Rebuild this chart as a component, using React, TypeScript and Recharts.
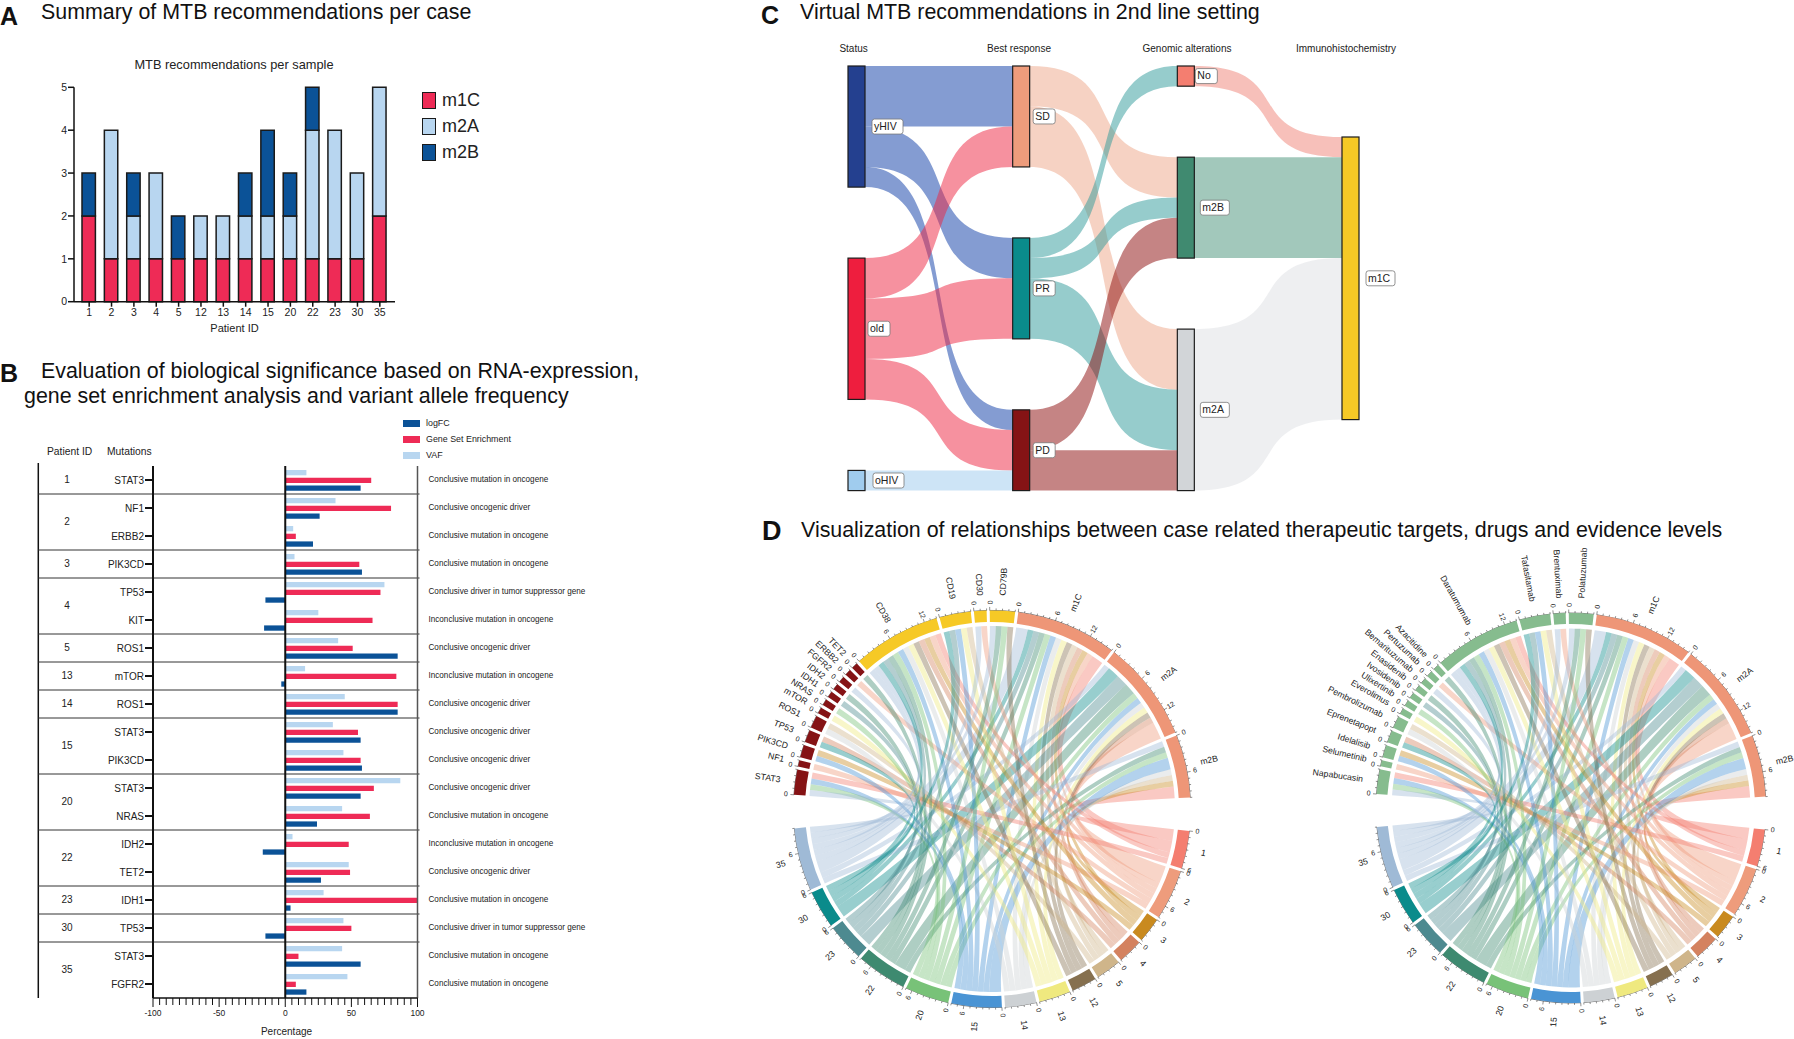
import React from 'react';
import {
  BarChart, Bar, XAxis, YAxis, Legend, ReferenceLine, Customized, Sankey, PieChart, Pie, Cell,
} from 'recharts';

const FONT = '"Liberation Sans", Arial, sans-serif';
const RED = '#EE2B56';
const PALE = '#B8D6F0';
const NAVY = '#0B5297';

// Panel A
const samplePatients = ['1', '2', '3', '4', '5', '12', '13', '14', '15', '20', '22', '23', '30', '35'];
const sampleM1C = [2, 1, 1, 1, 1, 1, 1, 1, 1, 1, 1, 1, 1, 2];
const sampleM2A = [0, 3, 1, 2, 0, 1, 1, 1, 1, 1, 3, 3, 2, 3];
const sampleM2B = [1, 0, 1, 0, 1, 0, 0, 1, 2, 1, 1, 0, 0, 0];
const sampleData = samplePatients.map((id, i) => ({ id, m1C: sampleM1C[i], m2A: sampleM2A[i], m2B: sampleM2B[i] }));

// Panel B
const mutationNames = ['STAT3', 'NF1', 'ERBB2', 'PIK3CD', 'TP53', 'KIT', 'ROS1', 'mTOR', 'ROS1', 'STAT3', 'PIK3CD', 'STAT3', 'NRAS', 'IDH2', 'TET2', 'IDH1', 'TP53', 'STAT3', 'FGFR2'];
const vafValues = [16, 38, 6, 7, 75, 25, 40, 15, 45, 36, 44, 87, 43, 5.5, 48, 29, 44, 43, 47];
const gseValues = [65, 80, 8, 56, 72, 66, 51, 84, 85, 55, 57, 67, 64, 48, 49, 100, 50, 10, 8];
const logfcValues = [57, 26, 21, 58, -15, -16, 85, -3, 85, 57, 58, 57, 24, -17, 27, 4, -15, 57, 16];
const mutationNotes = [
  'Conclusive mutation in oncogene', 'Conclusive oncogenic driver', 'Conclusive mutation in oncogene',
  'Conclusive mutation in oncogene', 'Conclusive driver in tumor suppressor gene', 'Inconclusive mutation in oncogene',
  'Conclusive oncogenic driver', 'Inconclusive mutation in oncogene', 'Conclusive oncogenic driver',
  'Conclusive oncogenic driver', 'Conclusive oncogenic driver', 'Conclusive oncogenic driver',
  'Conclusive mutation in oncogene', 'Inconclusive mutation in oncogene', 'Conclusive oncogenic driver',
  'Conclusive mutation in oncogene', 'Conclusive driver in tumor suppressor gene', 'Conclusive mutation in oncogene',
  'Conclusive mutation in oncogene',
];
const groupPatients = ['1', '2', '3', '4', '5', '13', '14', '15', '20', '22', '23', '30', '35'];
const groupRows = [1, 2, 1, 2, 1, 1, 1, 2, 2, 2, 1, 1, 2];
const percentTicks = [-100, -95, -90, -85, -80, -75, -70, -65, -60, -55, -50, -45, -40, -35, -30, -25, -20, -15, -10, -5, 0, 5, 10, 15, 20, 25, 30, 35, 40, 45, 50, 55, 60, 65, 70, 75, 80, 85, 90, 95, 100];
const percentLabels = [-100, -50, 0, 50, 100];
const mutationData = mutationNames.map((name, i) => ({ name, VAF: vafValues[i], 'Gene Set Enrichment': gseValues[i], logFC: logfcValues[i] }));

// Panel C
const flowNodes = ['yHIV', 'old', 'oHIV', 'SD', 'PR', 'PD', 'No', 'm2B', 'm2A', 'm1C'];
const flowNodeColors = ['#24408F', '#EE1E3E', '#A0CCEE', '#EE9C7C', '#0A8B8B', '#851315', '#F47E70', '#408A70', '#D2D5D8', '#F6C926'];
const flowLinkColors = ['#0A3AA5', '#ED233F', '#9BC9ED', '#EDA587', '#2D9999', '#8B0909', '#EF8175', '#459177', '#DDDFE3', '#F6C926'];
const flowSources = ['yHIV', 'yHIV', 'yHIV', 'old', 'old', 'old', 'oHIV', 'SD', 'SD', 'PR', 'PR', 'PR', 'PD', 'PD', 'No', 'm2B', 'm2A'];
const flowTargets = ['SD', 'PR', 'PD', 'SD', 'PR', 'PD', 'PD', 'm2B', 'm2A', 'No', 'm2B', 'm2A', 'm2B', 'm2A', 'm1C', 'm1C', 'm1C'];
const flowValues = [3, 2, 1, 2, 3, 2, 1, 2, 3, 1, 1, 3, 2, 2, 1, 5, 8];
const flowColumns = ['Status', 'Best response', 'Genomic alterations', 'Immunohistochemistry'];
const flowColumnCenters = [853.6, 1019, 1187, 1346];

// Panel D
const evidenceNames = ['m1C', 'm2A', 'm2B'];
const evidenceCounts = [
  [2, 1, 1, 1, 1, 1, 1, 1, 1, 1, 1, 1, 1, 2],
  [0, 3, 0, 1, 0, 1, 1, 1, 1, 1, 2, 2, 2, 1],
  [2, 0, 1, 0, 1, 0, 0, 1, 2, 1, 1, 0, 0, 1],
];
const patientColors = ['#F47E70', '#EE9C7C', '#C98A1F', '#D4825F', '#CFB58A', '#86704F', '#EFE97F', '#CDD1D4', '#4A94D4', '#78C278', '#3E8A70', '#4D8A90', '#0A8B8B', '#9FBAD6'];
const targetNames = ['STAT3', 'NF1', 'PIK3CD', 'TP53', 'ROS1', 'mTOR', 'NRAS', 'IDH1', 'IDH2', 'FGFR2', 'ERBB2', 'TET2', 'CD38', 'CD19', 'CD30', 'CD79B'];
const drugNames = ['Napabucasin', 'Selumetinib', 'Idelalisib', 'Eprenetapopt', 'Pembrolizumab', 'Everolimus', 'Ulixertinib', 'Ivosidenib', 'Enasidenib', 'Bemarituzumab', 'Pertuzumab', 'Azacitidine', 'Daratumumab', 'Tafasitamab', 'Brentuximab', 'Polatuzumab'];
const targetColors = ['#851315', '#851315', '#851315', '#851315', '#851315', '#851315', '#851315', '#851315', '#851315', '#851315', '#851315', '#851315', '#F6C926', '#F6C926', '#F6C926', '#F6C926'];
const drugColors = ['#86BC8E', '#86BC8E', '#86BC8E', '#86BC8E', '#86BC8E', '#86BC8E', '#86BC8E', '#86BC8E', '#86BC8E', '#86BC8E', '#86BC8E', '#86BC8E', '#86BC8E', '#86BC8E', '#86BC8E', '#86BC8E'];
const targetPatients = [
  ['1', '15', '20', '35'], ['2'], ['3', '15'], ['4', '30'], ['5', '14'], ['13'], ['20'], ['23'], ['22'], ['35'], ['2'], ['22'],
  ['35', '35', '30', '23', '22', '20', '15', '14', '13', '12', '4', '3', '2', '1'],
  ['30', '23', '15', '13', '5'],
  ['35', '2'],
  ['35', '22', '20', '12'],
];
const EVIDENCE_COLOR = '#EE9677';
const GAP_UNITS = 4.3;

function Title({ x, y, size, children, bold }: any) {
  return (
    <div style={{ position: 'absolute', left: x, top: y - size / 2, fontSize: size, lineHeight: 1, whiteSpace: 'nowrap', fontWeight: bold ? 700 : 400, fontFamily: FONT, color: '#111' }}>
      {children}
    </div>
  );
}

function SwatchLegend({ items, swatch, size, gap, bordered }: any) {
  return (
    <div style={{ fontFamily: FONT, fontSize: size, color: '#222', lineHeight: 1 }}>
      {items.map((it: any) => (
        <div key={it.name} style={{ display: 'flex', alignItems: 'center', height: gap }}>
          <span style={{ display: 'inline-block', boxSizing: 'border-box', width: swatch[0], height: swatch[1], background: it.color, border: bordered ? '1.5px solid #1a1a1a' : 'none', marginRight: 6 }} />
          {it.name}
        </div>
      ))}
    </div>
  );
}

function SummaryChart() {
  return (
    <div style={{ position: 'absolute', left: 0, top: 40 }}>
      <BarChart width={500} height={310} data={sampleData} margin={{ top: 47.3, right: 105, bottom: 18.3, left: 44 }} barSize={13.4}>
        <XAxis dataKey="id" interval={0} padding={{ left: 4, right: 4 }} height={30} tick={{ fontSize: 10.5, fill: '#222', fontFamily: FONT }} tickSize={5} tickMargin={2} stroke="#111" strokeWidth={1.5}
          label={{ value: 'Patient ID', position: 'insideBottom', offset: 0, fontSize: 11, fill: '#222', fontFamily: FONT }} />
        <YAxis domain={[0, 5]} ticks={[0, 1, 2, 3, 4, 5]} width={30} tick={{ fontSize: 10.5, fill: '#222', fontFamily: FONT }} tickSize={6} tickMargin={1} stroke="#111" strokeWidth={1.5} />
        <Legend layout="vertical" align="center" verticalAlign="middle"
          wrapperStyle={{ left: 422, top: 47, width: 80, bottom: 'auto', right: 'auto' }}
          content={() => <SwatchLegend swatch={[14, 17]} size={18} gap={26} bordered items={[{ name: 'm1C', color: RED }, { name: 'm2A', color: PALE }, { name: 'm2B', color: NAVY }]} />} />
        <Bar dataKey="m1C" stackId="a" fill={RED} stroke="#1a1a1a" strokeWidth={1.5} isAnimationActive={false} />
        <Bar dataKey="m2A" stackId="a" fill={PALE} stroke="#1a1a1a" strokeWidth={1.5} isAnimationActive={false} />
        <Bar dataKey="m2B" stackId="a" fill={NAVY} stroke="#1a1a1a" strokeWidth={1.5} isAnimationActive={false} />
      </BarChart>
    </div>
  );
}

// chart frame for panel B, in container coordinates
const B_TOP = 66;
const B_ROW = 28;
const B_RIGHT = 417.5;

function MutationOverlay() {
  let row = 0;
  return (
    <g fontFamily={FONT} fill="#222">
      <line x1={38.3} x2={38.3} y1={B_TOP - 3} y2={B_TOP + B_ROW * 19} stroke="#111" strokeWidth={1.5} />
      {groupPatients.map((id, i) => {
        const start = row;
        row += groupRows[i];
        const cy = B_TOP + (start + groupRows[i] / 2) * B_ROW;
        const bottom = B_TOP + row * B_ROW;
        return (
          <g key={id}>
            <text x={67} y={cy} fontSize={10} textAnchor="middle" dominantBaseline="middle">{id}</text>
            {i < groupPatients.length - 1 && <line x1={38.3} x2={B_RIGHT + 2} y1={bottom} y2={bottom} stroke="#333" strokeWidth={1} />}
          </g>
        );
      })}
      {mutationNotes.map((note, i) => (
        <text key={i} x={428.5} y={B_TOP + (i + 0.5) * B_ROW} fontSize={8.15} dominantBaseline="middle">{note}</text>
      ))}
      <text x={47} y={55} fontSize={10.3}>Patient ID</text>
      <text x={107} y={55} fontSize={10.3}>Mutations</text>
      <text x={286.5} y={635} fontSize={10} textAnchor="middle">Percentage</text>
    </g>
  );
}

function PercentTick({ x, y, payload }: any) {
  const major = percentLabels.includes(payload.value);
  return (
    <g>
      <line x1={x} x2={x} y1={y} y2={y + (major ? 9 : 7)} stroke="#111" strokeWidth={1} />
      {major && <text x={x} y={y + 18} fontSize={8.5} textAnchor="middle" fill="#222" fontFamily={FONT}>{payload.value}</text>}
    </g>
  );
}

function MutationChart() {
  return (
    <div style={{ position: 'absolute', left: 0, top: 400 }}>
      <BarChart width={620} height={640} data={mutationData} layout="vertical" barSize={5.3} barGap={2.4}
        margin={{ top: B_TOP, right: 620 - B_RIGHT, bottom: 2, left: 93 }}>
        <XAxis type="number" domain={[-100, 100]} ticks={percentTicks} interval={0} height={40} tickLine={false} tickSize={0} tickMargin={0} tick={PercentTick} stroke="#111" strokeWidth={1.5} />
        <YAxis type="category" dataKey="name" width={60} interval={0} allowDuplicatedCategory tick={{ fontSize: 10, fill: '#222', fontFamily: FONT }} tickSize={8} tickMargin={1} stroke="#111" strokeWidth={2} />
        <ReferenceLine x={0} stroke="#111" strokeWidth={2} />
        <ReferenceLine x={100} stroke="#555" strokeWidth={1.5} />
        <Legend layout="vertical" align="center" verticalAlign="middle"
          wrapperStyle={{ left: 403, top: 15, width: 140, bottom: 'auto', right: 'auto' }}
          content={() => <SwatchLegend swatch={[17, 7]} size={8.9} gap={16} items={[{ name: 'logFC', color: NAVY }, { name: 'Gene Set Enrichment', color: RED }, { name: 'VAF', color: PALE }]} />} />
        <Bar dataKey="VAF" fill={PALE} isAnimationActive={false} />
        <Bar dataKey="Gene Set Enrichment" fill={RED} isAnimationActive={false} />
        <Bar dataKey="logFC" fill={NAVY} isAnimationActive={false} />
        <Customized component={<MutationOverlay />} />
      </BarChart>
    </div>
  );
}

// label offset from node edge and box width
const flowLabelBox: any = { yHIV: [7, 31], old: [3, 22], oHIV: [8, 31], SD: [3.5, 22], PR: [3.5, 22], PD: [3.5, 22], No: [1, 22], m2B: [6, 29], m2A: [6, 29], m1C: [7, 29] };
const FLOW_PAD = 71;
const sinkShift = (name: string) => (name === 'm1C' ? FLOW_PAD : 0);

function FlowNode({ x, y, width, height, index }: any) {
  const name = flowNodes[index];
  const [dx, w] = flowLabelBox[name];
  const top = y + sinkShift(name);
  const cy = top + height / 2;
  return (
    <g>
      <rect x={x} y={top} width={width} height={height} fill={flowNodeColors[index]} stroke="#1c1c1c" strokeWidth={1.2} />
      <rect x={x + width + dx} y={cy - 7.5} width={w} height={15} rx={2.5} fill="#fff" stroke="#777" strokeWidth={0.8} />
      <text x={x + width + dx + 2} y={cy + 0.5} fontSize={10.5} fill="#222" fontFamily={FONT} dominantBaseline="middle">{name}</text>
    </g>
  );
}

function FlowLink({ sourceX, targetX, sourceY, targetY, sourceControlX, targetControlX, linkWidth, payload }: any) {
  const sh = sinkShift(payload.target.name);
  const half = linkWidth / 2;
  const ty = targetY + sh;
  const d = `M${sourceX},${sourceY - half} C${sourceControlX},${sourceY - half} ${targetControlX},${ty - half} ${targetX},${ty - half}`
    + ` L${targetX},${ty + half} C${targetControlX},${ty + half} ${sourceControlX},${sourceY + half} ${sourceX},${sourceY + half} Z`;
  return <path d={d} fill={flowLinkColors[flowNodes.indexOf(payload.source.name)]} fillOpacity={0.5} stroke="none" />;
}

function FlowChart() {
  const data = {
    nodes: flowNodes.map((name) => ({ name })),
    links: flowSources.map((s, i) => ({ source: flowNodes.indexOf(s), target: flowNodes.indexOf(flowTargets[i]), value: flowValues[i] })),
  };
  return (
    <>
      {flowColumns.map((c, i) => (
        <div key={c} style={{ position: 'absolute', left: flowColumnCenters[i] - 80, width: 160, top: 43, textAlign: 'center', fontSize: 10, fontFamily: FONT, color: '#222' }}>{c}</div>
      ))}
      <div style={{ position: 'absolute', left: 843, top: 60.7 }}>
        <Sankey width={570} height={435} data={data} nodeWidth={17} nodePadding={FLOW_PAD} iterations={0} sort={false} linkCurvature={0.7}
          margin={{ top: 5, left: 5, right: 54, bottom: 5.4 }} node={FlowNode as any} link={FlowLink as any} />
      </div>
    </>
  );
}

// builds ring sectors in drawing order, clockwise from m1C
function buildSectors(names: string[], colors: string[]) {
  const patientTotals = samplePatients.map((id, p) =>
    evidenceCounts.reduce((a, r) => a + r[p], 0) + targetPatients.reduce((a, t) => a + t.filter((v) => v === id).length, 0));
  return [
    ...evidenceNames.map((name, i) => ({ name, value: evidenceCounts[i].reduce((a, b) => a + b, 0), color: EVIDENCE_COLOR })),
    { name: '', value: GAP_UNITS, color: 'transparent' },
    ...samplePatients.map((name, i) => ({ name, value: patientTotals[i], color: patientColors[i] })),
    { name: '', value: GAP_UNITS, color: 'transparent' },
    ...names.map((name, i) => ({ name, value: targetPatients[i].length, color: colors[i] })),
  ];
}

const START_ANGLE = 82.4;
const PAD_ANGLE = 0.9;

function ChordOverlay({ sectors, cx, cy, R, tickFont, nameFont, names }: any) {
  const pt = (deg: number, r: number) => {
    const a = (deg * Math.PI) / 180;
    return [cx + r * Math.cos(a), cy - r * Math.sin(a)];
  };
  const total = sectors.reduce((a: number, s: any) => a + s.value, 0);
  const unit = (360 - sectors.length * PAD_ANGLE) / total;
  let cursor = START_ANGLE;
  const placed = sectors.map((s: any) => {
    const start = cursor;
    const end = start - s.value * unit;
    cursor = end - PAD_ANGLE;
    return { ...s, start, end, mid: (start + end) / 2, links: [] as any[], next: start };
  });
  const byName = (name: string, from: number, to: number) => placed.slice(from, to).find((s: any) => s.name === name);
  const links: any[] = [];
  evidenceCounts.forEach((row, e) => row.forEach((v, p) => {
    if (v > 0) links.push({ patient: samplePatients[p], color: patientColors[p], other: placed[e], value: v });
  }));
  targetPatients.forEach((list, t) => list.forEach((id) => {
    links.push({ patient: id, color: patientColors[samplePatients.indexOf(id)], other: byName(names[t], 19, placed.length), value: 1 });
  }));
  links.forEach((l) => {
    l.own = byName(l.patient, 4, 18);
    l.own.links.push({ link: l, peer: l.other, end: 'a' });
    l.other.links.push({ link: l, peer: l.own, end: 'b' });
  });
  placed.forEach((s: any) => {
    s.links
      .map((e: any, i: number) => ({ ...e, i, d: (s.mid - e.peer.mid + 720) % 360 }))
      .sort((a: any, b: any) => b.d - a.d || a.i - b.i)
      .forEach((e: any) => {
        const a0 = s.next;
        const a1 = a0 - e.link.value * unit;
        s.next = a1;
        e.link[e.end] = [a0, a1];
      });
  });
  const rIn = R - 15.6;
  const ribbon = (l: any) => {
    const [a0, a1] = l.a;
    const [b0, b1] = l.b;
    // far-apart ends run straighter, close ends bend in towards the middle
    let sep = Math.abs(l.own.mid - l.other.mid) % 360;
    if (sep > 180) sep = 360 - sep;
    const rCtl = rIn * (0.15 + 0.45 * (sep / 180));
    const p0 = pt(a0, rIn); const p1 = pt(a1, rIn); const q0 = pt(b0, rIn); const q1 = pt(b1, rIn);
    return `M${p0} A${rIn},${rIn} 0 0 1 ${p1} C${pt(a1, rCtl)} ${pt(b0, rCtl)} ${q0} A${rIn},${rIn} 0 0 1 ${q1} C${pt(b1, rCtl)} ${pt(a0, rCtl)} ${p0} Z`;
  };
  const facing = (deg: number) => {
    const theta = (90 - deg + 720) % 360;
    const left = theta > 180;
    return { left, rot: left ? theta - 270 : theta - 90 };
  };
  return (
    <g fontFamily={FONT} fill="#222">
      {links.map((l, i) => <path key={i} d={ribbon(l)} fill={l.color} fillOpacity={0.42} />)}
      {placed.filter((s: any) => s.name).map((s: any) => {
        const ticks: number[] = [];
        for (let v = 0; v <= s.value; v++) ticks.push(v);
        const [ax, ay] = pt(s.start, R);
        const [bx, by] = pt(s.end, R);
        const f = facing(s.mid);
        const [nx, ny] = pt(s.mid, R + 15);
        return (
          <g key={s.name}>
            <path d={`M${ax},${ay} A${R},${R} 0 0 1 ${bx},${by}`} fill="none" stroke="#222" strokeWidth={0.6} />
            {ticks.map((v) => {
              const deg = s.start - v * unit;
              const major = v % 6 === 0;
              const [x1, y1] = pt(deg, R);
              const [x2, y2] = pt(deg, R + (major ? 3.5 : 2));
              const lab = facing(deg);
              const [tx, ty] = pt(deg, R + 8);
              return (
                <g key={v}>
                  <line x1={x1} y1={y1} x2={x2} y2={y2} stroke="#222" strokeWidth={0.5} />
                  {major && <text x={tx} y={ty} fontSize={tickFont} textAnchor="middle" dominantBaseline="middle" transform={`rotate(${lab.rot} ${tx} ${ty})`}>{v}</text>}
                </g>
              );
            })}
            <text x={nx} y={ny} fontSize={nameFont} textAnchor={f.left ? 'end' : 'start'} dominantBaseline="middle" transform={`rotate(${f.rot} ${nx} ${ny})`}>{s.name}</text>
          </g>
        );
      })}
    </g>
  );
}

function ChordChart({ centerX, centerY, R, names, colors, ringWidth }: any) {
  const sectors = buildSectors(names, colors);
  return (
    <div style={{ position: 'absolute', left: centerX - 310, top: centerY - 270 }}>
      <PieChart width={620} height={540} margin={{ top: 0, right: 0, bottom: 0, left: 0 }}>
        <Pie data={sectors} dataKey="value" nameKey="name" cx={310} cy={270} innerRadius={R - ringWidth} outerRadius={R}
          startAngle={START_ANGLE} endAngle={START_ANGLE - 360} paddingAngle={PAD_ANGLE} stroke="none" label={false} labelLine={false} isAnimationActive={false}>
          {sectors.map((s, i) => <Cell key={i} fill={s.color} />)}
        </Pie>
        <Customized component={<ChordOverlay sectors={sectors} names={names} cx={310} cy={270} R={R} tickFont={7} nameFont={8.7} />} />
      </PieChart>
    </div>
  );
}

export default function App() {
  return (
    <div style={{ position: 'absolute', left: 0, top: 0, width: 1794, height: 1039, overflow: 'hidden', background: '#fff' }}>
      <Title x={0} y={16} size={25} bold>A</Title>
      <Title x={41} y={13} size={21.4}>Summary of MTB recommendations per case</Title>
      <div style={{ position: 'absolute', left: 114, width: 240, top: 57, textAlign: 'center', fontSize: 12.8, fontFamily: FONT, color: '#222' }}>MTB recommendations per sample</div>
      <SummaryChart />

      <Title x={0} y={373} size={25} bold>B</Title>
      <Title x={41} y={372} size={21.4}>Evaluation of biological significance based on RNA-expression,</Title>
      <Title x={24} y={397} size={21.4}>gene set enrichment analysis and variant allele frequency</Title>
      <MutationChart />

      <Title x={761} y={15} size={25} bold>C</Title>
      <Title x={800} y={13} size={21.4}>Virtual MTB recommendations in 2nd line setting</Title>
      <FlowChart />

      <Title x={762} y={531} size={27} bold>D</Title>
      <Title x={801} y={531} size={21.4}>Visualization of relationships between case related therapeutic targets, drugs and evidence levels</Title>
      <ChordChart centerX={992} centerY={809} R={198.6} ringWidth={11.6} names={targetNames} colors={targetColors} />
      <ChordChart centerX={1570.8} centerY={807.8} R={195} ringWidth={11} names={drugNames} colors={drugColors} />
    </div>
  );
}
